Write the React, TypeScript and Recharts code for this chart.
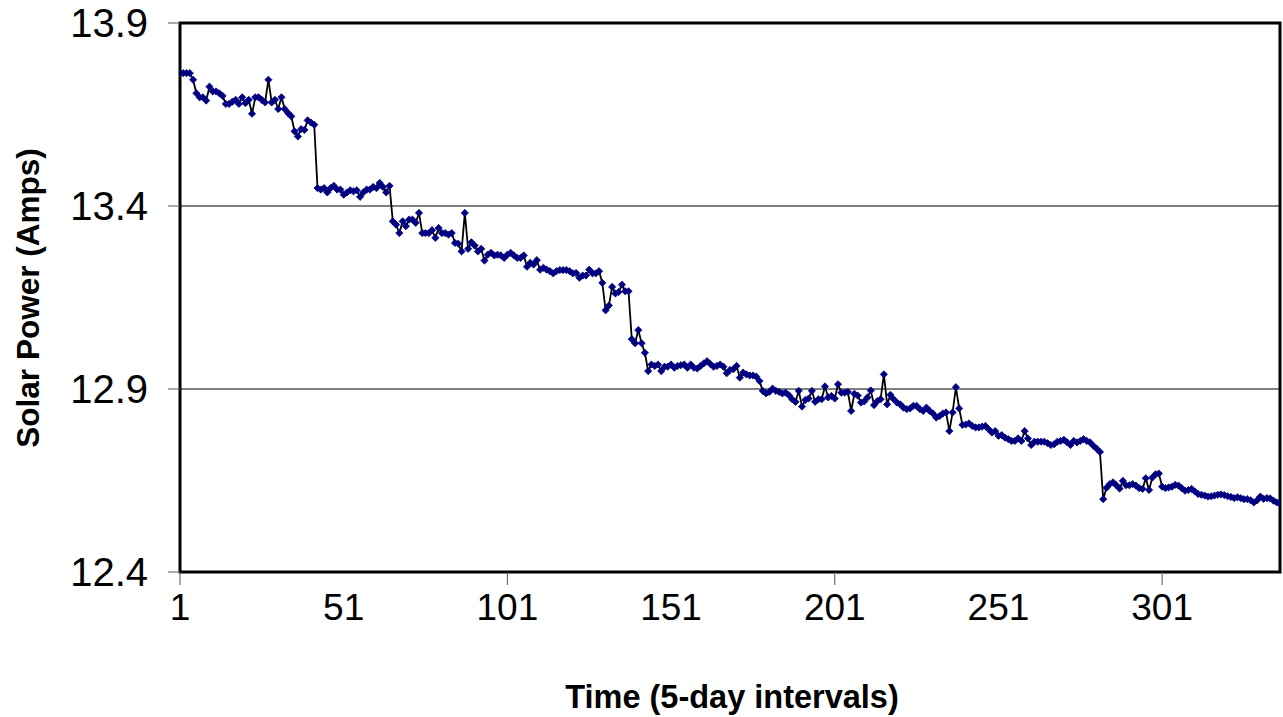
import React from 'react';
import { LineChart, Line, XAxis, YAxis, CartesianGrid, ReferenceArea } from 'recharts';

const solarPower = [
  13.763, 13.763, 13.763, 13.763, 13.745, 13.708, 13.697, 13.697, 13.688, 13.726,
  13.713, 13.713, 13.708, 13.701, 13.679, 13.679, 13.685, 13.690, 13.679, 13.697,
  13.681, 13.690, 13.652, 13.697, 13.697, 13.690, 13.683, 13.745, 13.683, 13.690,
  13.665, 13.697, 13.665, 13.654, 13.645, 13.604, 13.590, 13.610, 13.608, 13.634,
  13.628, 13.622, 13.449, 13.445, 13.449, 13.437, 13.449, 13.455, 13.445, 13.445,
  13.431, 13.437, 13.443, 13.440, 13.443, 13.425, 13.437, 13.445, 13.445, 13.452,
  13.449, 13.463, 13.452, 13.437, 13.455, 13.358, 13.349, 13.326, 13.358, 13.345,
  13.363, 13.363, 13.354, 13.381, 13.326, 13.326, 13.326, 13.334, 13.313, 13.340,
  13.326, 13.326, 13.322, 13.326, 13.299, 13.297, 13.276, 13.381, 13.283, 13.301,
  13.292, 13.276, 13.283, 13.251, 13.267, 13.272, 13.265, 13.267, 13.265, 13.258,
  13.267, 13.272, 13.265, 13.258, 13.258, 13.265, 13.234, 13.245, 13.240, 13.252,
  13.226, 13.231, 13.226, 13.222, 13.216, 13.222, 13.225, 13.225, 13.225, 13.222,
  13.216, 13.217, 13.204, 13.210, 13.210, 13.226, 13.216, 13.216, 13.222, 13.190,
  13.115, 13.128, 13.179, 13.161, 13.165, 13.185, 13.167, 13.167, 13.036, 13.025,
  13.061, 13.025, 12.999, 12.949, 12.967, 12.963, 12.967, 12.949, 12.961, 12.961,
  12.967, 12.958, 12.963, 12.965, 12.967, 12.958, 12.967, 12.958, 12.956, 12.963,
  12.970, 12.976, 12.968, 12.961, 12.963, 12.967, 12.961, 12.943, 12.952, 12.954,
  12.963, 12.931, 12.945, 12.940, 12.937, 12.937, 12.934, 12.922, 12.895, 12.888,
  12.892, 12.901, 12.895, 12.892, 12.888, 12.890, 12.883, 12.872, 12.865, 12.895,
  12.852, 12.870, 12.874, 12.895, 12.865, 12.872, 12.872, 12.907, 12.877, 12.881,
  12.874, 12.913, 12.890, 12.890, 12.892, 12.840, 12.887, 12.882, 12.863, 12.866,
  12.877, 12.896, 12.856, 12.867, 12.872, 12.940, 12.858, 12.884, 12.872, 12.863,
  12.858, 12.849, 12.845, 12.847, 12.854, 12.854, 12.845, 12.840, 12.849, 12.840,
  12.833, 12.822, 12.826, 12.833, 12.836, 12.785, 12.836, 12.905, 12.847, 12.802,
  12.803, 12.806, 12.799, 12.795, 12.795, 12.797, 12.799, 12.790, 12.781, 12.785,
  12.772, 12.774, 12.767, 12.763, 12.758, 12.758, 12.765, 12.758, 12.785, 12.765,
  12.747, 12.756, 12.756, 12.756, 12.756, 12.752, 12.747, 12.749, 12.756, 12.758,
  12.761, 12.754, 12.747, 12.758, 12.754, 12.758, 12.763, 12.758, 12.754, 12.745,
  12.737, 12.728, 12.599, 12.630, 12.640, 12.645, 12.637, 12.628, 12.649, 12.637,
  12.637, 12.640, 12.636, 12.629, 12.627, 12.656, 12.624, 12.658, 12.667, 12.669,
  12.633, 12.629, 12.631, 12.633, 12.638, 12.636, 12.629, 12.622, 12.624, 12.627,
  12.620, 12.613, 12.611, 12.609, 12.606, 12.607, 12.609, 12.611, 12.612, 12.610,
  12.607, 12.605, 12.602, 12.604, 12.602, 12.599, 12.599, 12.596, 12.590, 12.596,
  12.606, 12.600, 12.602, 12.601, 12.595, 12.590, 12.587,
];

const xTicks = [1, 51, 101, 151, 201, 251, 301];
const xTickMarks = [1, 101, 201, 301];
const yTicks = [12.4, 12.9, 13.4, 13.9];

const data = solarPower.map((v, i) => ({ t: i + 1, power: v }));
const lastT = solarPower.length;

const FONT = '"Liberation Sans", Arial, sans-serif';

const Diamond = (props: any) => {
  const { cx, cy, index } = props;
  if (cx == null || cy == null) return <g key={`d${index}`} />;
  const s = 3.6;
  return (
    <path
      key={`d${index}`}
      d={`M${cx},${cy - s}L${cx + s},${cy}L${cx},${cy + s}L${cx - s},${cy}Z`}
      fill="#000080"
      stroke="#000080"
      strokeWidth={0.8}
    />
  );
};

const XTick = (props: any) => {
  const { x, y, payload } = props;
  const v = payload.value;
  return (
    <g>
      {xTickMarks.includes(v) && (
        <line x1={x} x2={x} y1={y} y2={y + 13} stroke="#555" strokeWidth={1} />
      )}
      <text x={x} y={y + 48} textAnchor="middle" fontSize={37} fontFamily={FONT} fill="#000">
        {v}
      </text>
    </g>
  );
};

export default function App() {
  return (
    <div style={{ position: 'absolute', left: 0, top: 0, width: 1283, height: 717, background: '#fff' }}>
      <LineChart
        width={1283}
        height={717}
        data={data}
        margin={{ top: 23, right: 3, left: 0, bottom: 0 }}
      >
        <CartesianGrid horizontal vertical={false} stroke="#000" strokeWidth={1} />
        <XAxis
          type="number"
          dataKey="t"
          domain={[1, lastT]}
          ticks={xTicks}
          interval={0}
          tick={<XTick />}
          tickLine={false}
          axisLine={false}
          tickSize={0}
          tickMargin={0}
          height={145}
          allowDataOverflow
        />
        <YAxis
          type="number"
          domain={[12.4, 13.9]}
          ticks={yTicks}
          interval={0}
          width={180}
          tickSize={12}
          tickMargin={20}
          tickLine={{ stroke: '#555', strokeWidth: 1 }}
          axisLine={false}
          tickFormatter={(v: number) => v.toFixed(1)}
          tick={{ fontSize: 40, fontFamily: FONT, fill: '#000' }}
          allowDataOverflow
        />
        <Line
          type="linear"
          dataKey="power"
          stroke="#000"
          strokeWidth={1.8}
          dot={Diamond}
          activeDot={false}
          isAnimationActive={false}
        />
        <ReferenceArea
          x1={1}
          x2={lastT}
          y1={12.4}
          y2={13.9}
          fill="none"
          fillOpacity={0}
          stroke="#000"
          strokeWidth={3}
          ifOverflow="visible"
        />
      </LineChart>
      <div
        style={{
          position: 'absolute',
          left: 28,
          top: 298,
          transform: 'translate(-50%, -50%) rotate(-90deg)',
          fontFamily: FONT,
          fontWeight: 'bold',
          fontSize: 31.5,
          whiteSpace: 'nowrap',
          color: '#000',
        }}
      >
        Solar Power (Amps)
      </div>
      <div
        style={{
          position: 'absolute',
          left: 732,
          top: 697,
          transform: 'translate(-50%, -50%)',
          fontFamily: FONT,
          fontWeight: 'bold',
          fontSize: 32.5,
          whiteSpace: 'nowrap',
          color: '#000',
        }}
      >
        Time (5-day intervals)
      </div>
    </div>
  );
}
